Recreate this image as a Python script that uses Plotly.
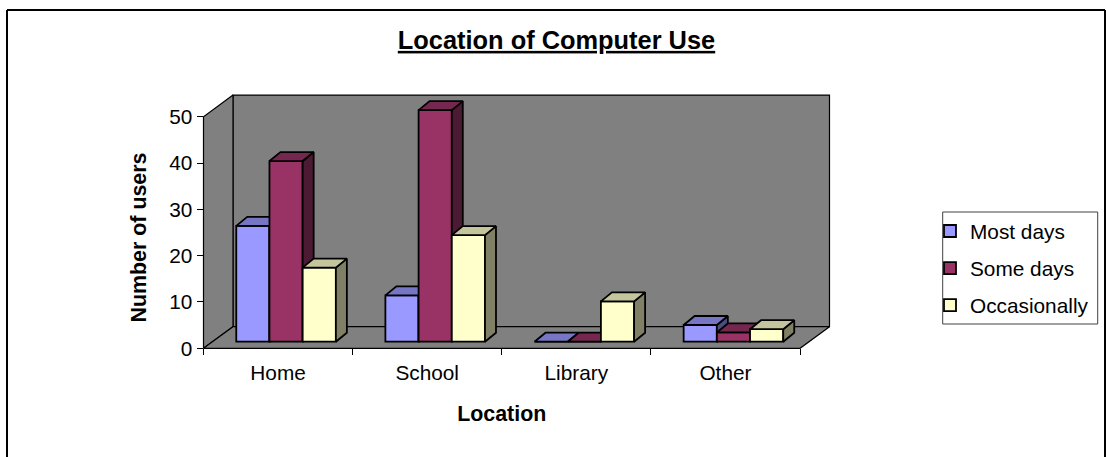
import plotly.graph_objects as go

categories = ["Home", "School", "Library", "Other"]
most_days = [25, 10, 0, 3.6]
some_days = [39, 50, 0, 2]
occasionally = [16, 23, 8.7, 2.7]
series_names = ["Most days", "Some days", "Occasionally"]
y_ticks = [0, 10, 20, 30, 40, 50]

W, H = 1106, 457
FONT = "Liberation Sans, Arial, sans-serif"
LEFT, RIGHT_FRONT = 203.5, 800.0
Y0, Y50 = 348.3, 116.7
PX_X = (RIGHT_FRONT - LEFT) / 4      # pixels per category
PX_Y = (Y0 - Y50) / 50               # pixels per value unit
WALL_DX, WALL_DY = 29.5 / PX_X, 21.6 / PX_Y
WALL_TOP = 50 + WALL_DY
SHIFT_X, SHIFT_Y = 8 / PX_X, 6.6 / PX_Y
BAR_W = 33.2 / PX_X
BAR_DX, BAR_DY = 11 / PX_X, 9 / PX_Y
LW = 1.8
# the left axis runs a little below zero so that its title sits where the reference has it
BELOW_PX = 10
Y_BELOW = BELOW_PX / PX_Y
PAD = 4     # room round the drawing subplot so that edge strokes are not clipped


def shade(rgb, k):
    return "rgb(%d,%d,%d)" % tuple(round(c * k) for c in rgb)


colors = [(153, 153, 255), (153, 51, 102), (255, 255, 204)]
values = [most_days, some_days, occasionally]

fig = go.Figure()


def poly(pts_list, fill, xa, ya, width=LW):
    xs, ys = [], []
    for pts in pts_list:
        xs += [p[0] for p in pts] + [pts[0][0], None]
        ys += [p[1] for p in pts] + [pts[0][1], None]
    fig.add_trace(go.Scatter(x=xs, y=ys, mode="lines", fill="toself", fillcolor=fill,
                             line=dict(color="black", width=width), xaxis=xa, yaxis=ya,
                             showlegend=False, hoverinfo="skip"))


# front edges, on the axes that carry the ticks and titles
fig.add_trace(go.Scatter(x=[0, 4], y=[0, 0], mode="lines", line=dict(color="black", width=1.2),
                         xaxis="x", yaxis="y", showlegend=False, hoverinfo="skip"))

# walls and floor
wx, wy = WALL_DX, WALL_DY
poly([[(wx, wy), (4 + wx, wy), (4 + wx, WALL_TOP), (wx, WALL_TOP)]], "#808080", "x2", "y2", width=1.2)
poly([[(0, 0), (wx, wy), (wx, WALL_TOP), (0, 50)]], "#808080", "x2", "y2", width=1.2)
poly([[(0, 0), (4, 0), (4 + wx, wy), (wx, wy)]], "#808080", "x2", "y2", width=1.2)

# three stacked overlays, painted left to right so that each bar hides the previous side face
for i, (name, vals, rgb) in enumerate(zip(series_names, values, colors)):
    n = i + 3
    xa, ya = f"x{n}", f"y{n}"
    xc = [c + 0.5 + (i - 1) * BAR_W for c in range(len(categories))]
    fig.add_trace(go.Bar(x=xc, y=vals, width=BAR_W, name=name, xaxis=xa, yaxis=ya,
                         marker=dict(color=shade(rgb, 1), line=dict(color="black", width=LW)),
                         legendgroup=name, hoverinfo="y+name"))
    tops, sides = [], []
    for x, v in zip(xc, vals):
        x0, x1 = x - BAR_W / 2, x + BAR_W / 2
        tops.append([(x0, v), (x1, v), (x1 + BAR_DX, v + BAR_DY), (x0 + BAR_DX, v + BAR_DY)])
        sides.append([(x1, 0), (x1, v), (x1 + BAR_DX, v + BAR_DY), (x1 + BAR_DX, BAR_DY)])
    poly(sides, shade(rgb, 0.5), xa, ya)
    poly(tops, shade(rgb, 0.77), xa, ya)

dom_x = [LEFT / W, RIGHT_FRONT / W]
dom_y = [(H - Y0 - BELOW_PX) / H, (H - Y50) / H]
Y_RANGE = [-Y_BELOW, 50]

# drawing subplot: wider than the front plane, holds walls and bars
px_wall_r = RIGHT_FRONT + 29.5
px_wall_t = Y50 - 21.6
dom_x2 = [(LEFT - PAD) / W, (px_wall_r + PAD) / W]
dom_y2 = [(H - Y0 - PAD) / H, (H - px_wall_t + PAD) / H]
X2_RANGE = [-PAD / PX_X, 4 + wx + PAD / PX_X]
Y2_RANGE = [-PAD / PX_Y, WALL_TOP + PAD / PX_Y]

layout = dict(
    width=W, height=H, autosize=False,
    margin=dict(l=0, r=0, t=0, b=0),
    paper_bgcolor="white", plot_bgcolor="rgba(0,0,0,0)",
    font=dict(family=FONT, size=20, color="black"),
    barmode="overlay",
    title=dict(text="<b><u>Location of Computer Use</u></b>", x=556.5 / W, xanchor="center",
               y=1 - 40 / H, yanchor="middle", font=dict(size=25.4, family=FONT)),
    xaxis=dict(domain=dom_x, range=[0, 4], showgrid=False, zeroline=False, showline=False,
               anchor="free", position=(H - Y0) / H, automargin=False,
               tickmode="array", tickvals=[c + 0.5 for c in range(len(categories))],
               ticktext=categories, ticks="outside", ticklen=6, tickcolor="rgba(0,0,0,0)",
               tickfont=dict(size=20.8, family=FONT),
               minor=dict(tickmode="array", tickvals=list(range(len(categories) + 1)),
                          ticks="outside", ticklen=6, tickwidth=1, tickcolor="black", showgrid=False),
               title=dict(text="<b>Location</b>", font=dict(size=21.4, family=FONT), standoff=22)),
    yaxis=dict(domain=dom_y, range=Y_RANGE, showgrid=False, zeroline=False, showline=False,
               automargin=False,
               tickmode="array", tickvals=y_ticks, ticks="outside", ticklen=6, tickwidth=1,
               tickcolor="black", tickfont=dict(size=20.8, family=FONT),
               title=dict(text="<b>Number of users</b>", font=dict(size=21.4, family=FONT), standoff=16)),
    xaxis2=dict(domain=dom_x2, range=X2_RANGE, visible=False, anchor="y2"),
    yaxis2=dict(domain=dom_y2, range=Y2_RANGE, visible=False, anchor="x2"),
    legend=dict(x=930 / W, y=1 - 211 / H, xanchor="left", yanchor="top",
                bgcolor="rgba(0,0,0,0)", borderwidth=0,
                font=dict(size=20.8, family=FONT), traceorder="grouped", tracegroupgap=7,
                itemclick=False, itemdoubleclick=False),
    showlegend=True,
    shapes=[
        dict(type="line", xref="paper", yref="paper", x0=7 / W, x1=1105 / W, y0=1 - 10 / H, y1=1 - 10 / H,
             line=dict(color="black", width=2)),
        dict(type="line", xref="paper", yref="paper", x0=7 / W, x1=7 / W, y0=1 - 10 / H, y1=0,
             line=dict(color="black", width=2)),
        dict(type="line", xref="paper", yref="paper", x0=1105 / W, x1=1105 / W, y0=1 - 10 / H, y1=0,
             line=dict(color="black", width=2)),
        dict(type="rect", xref="paper", yref="paper", x0=942.7 / W, x1=1097.7 / W, y0=1 - 212 / H, y1=1 - 324 / H,
             line=dict(color="#404040", width=1), fillcolor="white"),
    ],
)
for n in (3, 4, 5):
    layout[f"xaxis{n}"] = dict(range=[X2_RANGE[0] - SHIFT_X, X2_RANGE[1] - SHIFT_X], overlaying="x2",
                               visible=False, anchor=f"y{n}")
    layout[f"yaxis{n}"] = dict(range=[Y2_RANGE[0] - SHIFT_Y, Y2_RANGE[1] - SHIFT_Y], overlaying="y2",
                               visible=False, anchor=f"x{n}")
fig.update_layout(**layout)

fig.write_html("out.html", config={"displayModeBar": False},
               post_script="document.body.style.margin='0';")
